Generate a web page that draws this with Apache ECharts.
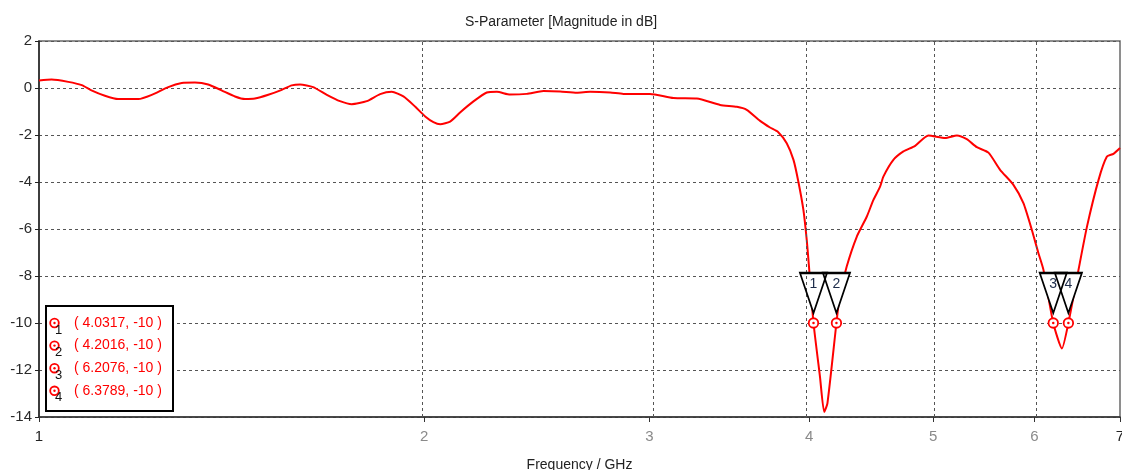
<!DOCTYPE html>
<html>
<head>
<meta charset="utf-8">
<title>S-Parameter [Magnitude in dB]</title>
<script src="https://cdn.jsdelivr.net/npm/echarts@6/dist/echarts.min.js"></script>
<style>
  html, body { margin: 0; padding: 0; background: #fff; }
  #chart { width: 1122px; height: 470px; }
</style>
</head>
<body>
<div id="chart"></div>
<script>
// S11 magnitude (dB) versus frequency (GHz)
const freqGHz = [
  1.000, 1.023, 1.054, 1.080, 1.099, 1.126, 1.153, 1.196, 1.225, 1.262,
  1.293, 1.324, 1.356, 1.389, 1.423, 1.449, 1.475, 1.511, 1.548, 1.576,
  1.600, 1.638, 1.679, 1.719, 1.756, 1.804, 1.848, 1.887, 1.927, 1.968,
  2.004, 2.034, 2.059, 2.096, 2.134, 2.186, 2.239, 2.280, 2.335, 2.406,
  2.480, 2.555, 2.633, 2.697, 2.796, 2.863, 3.004, 3.133, 3.268, 3.408,
  3.512, 3.575, 3.662, 3.728, 3.784, 3.842, 3.889, 3.923, 3.959, 3.983,
  3.999, 4.0317, 4.079, 4.110, 4.134, 4.2016, 4.226, 4.280, 4.358, 4.437,
  4.491, 4.545, 4.572, 4.655, 4.740, 4.841, 4.958, 5.110, 5.219, 5.313,
  5.410, 5.524, 5.641, 5.778, 5.883, 5.973, 6.044, 6.099, 6.2076, 6.305,
  6.3789, 6.496, 6.596, 6.735, 6.837, 6.918, 7.000
];
const s11dB = [
  0.32, 0.36, 0.26, 0.12, -0.10, -0.33, -0.47, -0.47, -0.29, 0.04,
  0.21, 0.23, 0.15, -0.10, -0.36, -0.47, -0.45, -0.29, -0.08, 0.11,
  0.15, 0.04, -0.29, -0.56, -0.69, -0.56, -0.26, -0.16, -0.36, -0.79,
  -1.21, -1.45, -1.54, -1.43, -1.04, -0.57, -0.19, -0.16, -0.28, -0.25,
  -0.13, -0.15, -0.20, -0.16, -0.19, -0.25, -0.25, -0.43, -0.45, -0.72,
  -0.80, -0.93, -1.40, -1.68, -1.88, -2.35, -3.06, -3.98, -5.19, -6.47,
  -7.60, -10.0, -12.29, -13.78, -13.42, -10.0, -8.88, -7.60, -6.33, -5.48,
  -4.76, -4.20, -3.77, -3.06, -2.70, -2.46, -2.02, -2.13, -2.02, -2.18,
  -2.52, -2.75, -3.48, -4.12, -4.90, -6.04, -7.03, -7.74, -10.0, -11.08,
  -10.0, -7.74, -5.90, -3.91, -2.92, -2.80, -2.55
];

// Curve markers
const markerIds = ['1', '2', '3', '4'];
const markerFreq = [4.0317, 4.2016, 6.2076, 6.3789];
const markerDb = [-10, -10, -10, -10];

// Axis ticks
const freqTicks = [1, 2, 3, 4, 5, 6, 7];
const freqGridLines = [2, 3, 4, 5, 6];
const dbMin = -14, dbMax = 2, dbStep = 2;

const FONT = "'Liberation Sans', Arial, sans-serif";
const lg = v => Math.log10(v);

const curve = freqGHz.map((f, i) => [lg(f), s11dB[i]]);
const markers = markerFreq.map((f, i) => [lg(f), markerDb[i], markerIds[i]]);

const chart = echarts.init(document.getElementById('chart'), null, { renderer: 'canvas' });

// Marker table drawn in the lower-left corner
const legendEls = [{
  type: 'rect', left: 45, top: 305, z: 100,
  shape: { width: 127, height: 105 },
  style: { fill: '#fff', stroke: '#000', lineWidth: 2 }
}];
markerIds.forEach((id, i) => {
  const cy = 323 + i * 22.6;
  legendEls.push(
    { type: 'circle', z: 101, shape: { cx: 54.5, cy: cy, r: 4.3 },
      style: { fill: '#fff', stroke: '#ff0000', lineWidth: 1.8 } },
    { type: 'circle', z: 102, shape: { cx: 54.5, cy: cy, r: 1.2 },
      style: { fill: '#ff0000' } },
    { type: 'text', z: 102, x: 55, y: cy + 0.5,
      style: { text: id, fill: '#111', font: '13px ' + FONT, verticalAlign: 'top' } },
    { type: 'text', z: 102, x: 74, y: cy,
      style: { text: '( ' + markerFreq[i].toFixed(4) + ', ' + markerDb[i] + ' )',
               fill: '#ff0000', font: '14px ' + FONT, verticalAlign: 'middle' } }
  );
});

const triangle = 'path://M0,0 L27,0 L13.5,40 Z';

chart.setOption({
  animation: false,
  backgroundColor: '#fff',
  title: {
    text: 'S-Parameter [Magnitude in dB]',
    left: 'center', top: 10,
    textStyle: { fontFamily: FONT, fontSize: 14, fontWeight: 'normal', color: '#222' }
  },
  grid: {
    left: 39, right: 2, top: 41, bottom: 53,
    containLabel: false, outerBoundsMode: 'none',
    show: true, borderColor: '#6a6a6a', borderWidth: 1.5, backgroundColor: 'transparent'
  },
  xAxis: {
    type: 'value',
    min: 0, max: lg(7),
    name: 'Frequency / GHz', nameLocation: 'middle', nameGap: 41,
    nameTextStyle: { fontFamily: FONT, fontSize: 14, color: '#222' },
    axisLine: { show: true, onZero: false, lineStyle: { color: '#333', width: 1.5 } },
    axisTick: { show: true, inside: false, length: 5, customValues: freqTicks.map(lg),
                lineStyle: { color: '#333' } },
    axisLabel: {
      customValues: freqTicks.map(lg), margin: 12,
      fontFamily: FONT, fontSize: 15,
      formatter: v => {
        const f = Math.round(Math.pow(10, v));
        return (f === 1 || f === 7) ? '{d|' + f + '}' : '{g|' + f + '}';
      },
      rich: {
        d: { color: '#222', fontFamily: FONT, fontSize: 15 },
        g: { color: '#8a8a8a', fontFamily: FONT, fontSize: 15 }
      }
    },
    splitLine: { show: false }
  },
  yAxis: {
    type: 'value',
    min: dbMin, max: dbMax, interval: dbStep,
    axisLine: { show: true, onZero: false, lineStyle: { color: '#222', width: 1.5 } },
    axisTick: { show: true, inside: false, length: 4, lineStyle: { color: '#222' } },
    axisLabel: { margin: 7, fontFamily: FONT, fontSize: 15, color: '#2a2a2a' },
    splitLine: { show: true, lineStyle: { color: '#555', width: 1, type: [3, 3] } }
  },
  graphic: legendEls,
  series: [
    {
      // vertical frequency grid lines
      type: 'line', data: [], silent: true, z: 1,
      markLine: {
        silent: true, symbol: 'none', animation: false,
        label: { show: false },
        lineStyle: { color: '#555', width: 1, type: [3, 3] },
        data: freqGridLines.map(f => ({ xAxis: lg(f) }))
      }
    },
    {
      name: 'S1,1', type: 'line', data: curve, z: 3,
      showSymbol: false, smooth: 0.2,
      lineStyle: { color: '#ff0000', width: 2 }
    },
    {
      // triangle flags, white body
      type: 'scatter', data: markers, z: 4, silent: true,
      symbol: triangle, symbolSize: [27, 40], symbolOffset: [0, -30],
      itemStyle: { color: '#fff', borderWidth: 0, opacity: 1 }
    },
    {
      // triangle flags, outline and index
      type: 'scatter', data: markers, z: 5, silent: true,
      symbol: triangle, symbolSize: [27, 40], symbolOffset: [0, -30],
      itemStyle: { color: 'rgba(0,0,0,0)', borderColor: '#000', borderWidth: 2, opacity: 1 },
      label: {
        show: true, position: 'inside', offset: [0, -9],
        formatter: p => p.value[2],
        fontFamily: FONT, fontSize: 14, color: '#1d2c4a'
      }
    },
    {
      // marker rings
      type: 'scatter', data: markers, z: 6, silent: true,
      symbol: 'circle', symbolSize: 9.5,
      itemStyle: { color: '#fff', borderColor: '#ff0000', borderWidth: 1.8, opacity: 1 }
    },
    {
      // marker centre dots
      type: 'scatter', data: markers, z: 7, silent: true,
      symbol: 'circle', symbolSize: 2.5,
      itemStyle: { color: '#ff0000', opacity: 1 }
    }
  ]
});
</script>
</body>
</html>
